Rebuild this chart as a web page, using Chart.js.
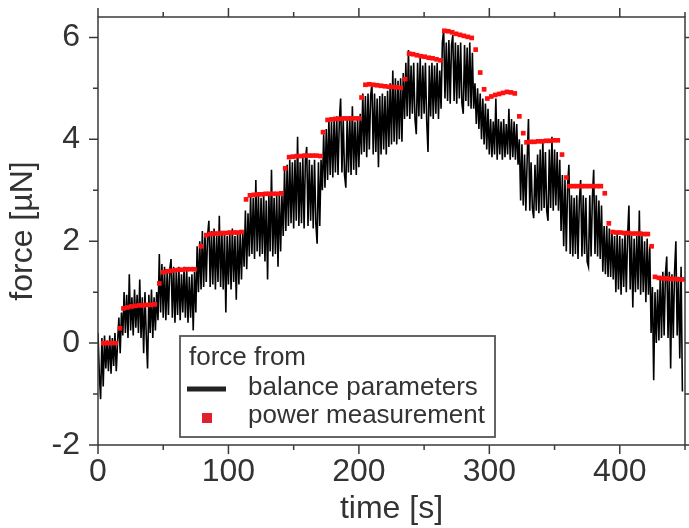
<!DOCTYPE html>
<html>
<head>
<meta charset="utf-8">
<script src="https://cdn.jsdelivr.net/npm/chart.js@4/dist/chart.umd.min.js"></script>
<style>
  html, body { margin: 0; padding: 0; background: #fff; }
  canvas { display: block; }
</style>
</head>
<body>
<canvas id="forceChart" width="689" height="528"></canvas>
<script>
// balance parameters: sampled every 1 s from t = 0
const balanceStep = 1;
const balanceForce = [
  0.2, -0.6, -1.1, 0.1, -0.85, 0.15, -0.5, 0.05, -0.55, 0.15,
  -0.6, 0.1, -0.45, 0.2, -0.55, 0.0, 0.5, -0.2, 0.6, 0.15,
  1.0, 0.2, 0.95, 0.1, 1.35, 0.25, 0.9, 0.15, 1.05, 0.3,
  0.95, 0.2, 1.25, 0.1, 0.9, -0.2, 1.0, 0.15, -0.5, 0.95,
  0.2, 1.05, 0.1, 0.9, 0.25, 1.0, 0.45, 1.75, 0.6, 1.55,
  0.5, 1.5, 0.45, 1.4, 0.55, 1.45, 1.65, 0.5, 1.5, 0.4,
  1.4, 0.55, 1.5, 0.45, 1.35, 0.6, 1.5, 0.5, 1.45, 0.4,
  1.3, 0.5, 1.35, 0.25, 1.4, 0.6, 1.9, 1.0, 2.0, 1.05,
  2.2, 1.1, 2.15, 1.2, 2.1, 2.4, 1.1, 2.2, 1.15, 2.25,
  1.05, 2.1, 1.2, 2.5, 1.1, 2.15, 1.05, 2.2, 0.6, 2.1,
  1.15, 2.2, 1.05, 2.25, 1.2, 2.1, 0.85, 2.2, 1.15, 2.15,
  1.25, 2.2, 1.5, 2.6, 1.45, 2.55, 1.7, 2.9, 1.75, 2.85,
  1.65, 3.2, 1.8, 2.9, 1.7, 2.85, 1.75, 2.95, 1.6, 2.8,
  1.25, 2.9, 1.8, 3.4, 1.7, 2.85, 1.75, 2.9, 1.5, 2.95,
  1.8, 2.9, 2.1, 3.4, 2.2, 3.5, 2.3, 3.6, 2.35, 3.55,
  2.25, 3.6, 2.4, 4.05, 2.3, 3.55, 2.35, 3.65, 2.25, 3.6,
  3.85, 2.3, 3.6, 2.4, 3.5, 2.25, 3.6, 2.35, 1.95, 3.55,
  2.3, 3.6, 3.0, 4.1, 3.05, 4.2, 3.2, 4.4, 3.3, 4.35,
  3.25, 4.4, 3.35, 4.45, 3.3, 4.35, 4.8, 3.35, 4.4, 3.3,
  3.05, 4.4, 3.35, 4.45, 3.3, 4.65, 3.4, 4.35, 3.3, 4.4,
  3.45, 4.5, 3.7, 4.9, 3.75, 4.85, 3.65, 4.9, 3.8, 4.85,
  5.1, 3.7, 4.9, 3.75, 4.8, 3.45, 4.85, 3.7, 4.9, 3.8,
  4.85, 3.7, 4.95, 3.85, 5.1, 3.9, 5.35, 3.95, 5.2, 3.9,
  5.15, 4.0, 5.2, 3.95, 5.3, 4.4, 5.5, 4.45, 5.75, 4.4,
  5.45, 4.5, 5.5, 4.4, 4.1, 5.5, 4.45, 5.6, 4.4, 5.45,
  4.5, 5.5, 4.35, 3.75, 5.45, 4.45, 5.5, 4.4, 5.45, 4.5,
  5.5, 4.4, 5.35, 4.6, 5.9, 6.15, 4.8, 5.9, 4.75, 5.95,
  4.7, 5.85, 6.05, 4.75, 5.9, 4.7, 5.85, 4.8, 5.9, 4.7,
  4.5, 5.85, 4.75, 5.8, 4.65, 5.9, 4.6, 5.7, 4.6, 5.1,
  4.3, 5.0, 4.2, 4.9, 4.0, 4.8, 3.9, 4.7, 3.8, 4.6,
  3.7, 4.4, 3.65, 4.35, 3.7, 4.8, 3.6, 4.4, 3.7, 4.35,
  3.6, 4.4, 3.65, 4.3, 3.7, 4.6, 3.6, 4.4, 3.65, 4.35,
  3.6, 4.3, 3.5, 4.0, 2.8, 3.9, 2.7, 3.7, 2.6, 3.6,
  4.4, 2.6, 3.55, 2.65, 2.45, 3.5, 2.6, 3.7, 2.55, 3.8,
  2.6, 4.0, 2.65, 3.75, 2.6, 2.4, 3.8, 2.65, 4.05, 2.6,
  3.8, 2.7, 3.75, 2.6, 3.6, 2.2, 3.3, 1.9, 3.2, 1.8,
  3.1, 3.5, 1.75, 2.9, 1.7, 2.85, 1.75, 2.9, 1.65, 2.8,
  3.2, 1.7, 2.9, 1.75, 2.85, 1.6, 1.5, 2.9, 1.7, 2.85,
  3.4, 1.75, 2.9, 1.7, 2.8, 1.65, 2.7, 1.4, 2.3, 1.35,
  2.3, 1.3, 2.25, 1.3, 2.2, 1.25, 2.1, 1.0, 2.15, 1.05,
  2.1, 0.95, 2.05, 1.1, 2.15, 1.0, 2.1, 2.7, 1.05, 2.1,
  0.7, 2.05, 1.0, 2.1, 1.05, 2.6, 0.95, 2.1, 1.0, 2.0,
  0.8, 2.05, 0.95, 1.9, 0.2, 1.1, -0.73, 1.0, 0.0, 1.05,
  0.05, 1.3, 0.1, 1.4, 0.15, 1.35, 1.7, 0.1, 1.4, -0.5,
  1.35, 0.1, 1.4, 2.0, 0.15, 1.3, -0.3, 1.5, -0.95
];

// power measurement
const powerTime = [
  4, 7, 10, 13.5, 16.8,
  19.5, 22.5, 25.5, 28.5, 31.5, 34.5, 37.5, 40.5, 43.5, 47,
  50, 53, 56, 59, 62, 65, 68, 71, 74, 79,
  83, 86, 89, 92, 95, 98, 101, 104, 107, 110, 113.5,
  116.5, 119.5, 122.5, 125.5, 128.5, 131.5, 134.5, 137.5, 140.5, 143.5,
  146.5, 149.5, 152.5, 155.5, 158.5, 161.5, 164.5, 167.5, 170.5, 172.5,
  176, 179, 182, 185, 188, 191, 194, 197, 200, 202,
  205, 208, 211, 214, 217, 220, 223, 226, 229, 232, 235.5,
  238.5, 241.5, 244.5, 247.5, 250.5, 253.5, 256.5, 259.5, 262.5,
  265.5, 268.5, 271.5, 274.5, 277.5, 280.5, 283.5, 286.5, 289.5, 293, 296,
  298.5, 301.5, 304.5, 307.5, 310.5, 313.5, 316.5, 319.5, 323, 326,
  328.5, 331.5, 334.5, 337.5, 340.5, 343.5, 346.5, 349.5, 352.5, 355.7, 359,
  361.5, 364.5, 367.5, 370.5, 373.5, 376.5, 379.5, 382.5, 385.5, 388.5, 391.6,
  394.5, 397.5, 400.5, 403.5, 406.5, 409.5, 412.5, 415.5, 418.5, 421.5, 424.4,
  427, 430, 433, 436, 439, 442, 445, 448
];
const powerForce = [
  0, 0, 0, 0, 0.29,
  0.68, 0.7, 0.72, 0.73, 0.74, 0.74, 0.75, 0.75, 0.76, 1.17,
  1.39, 1.41, 1.42, 1.43, 1.44, 1.44, 1.45, 1.45, 1.45, 1.9,
  2.12, 2.14, 2.15, 2.15, 2.16, 2.16, 2.17, 2.17, 2.17, 2.18, 2.82,
  2.9, 2.91, 2.92, 2.92, 2.93, 2.93, 2.93, 2.93, 2.94, 3.43,
  3.65, 3.66, 3.67, 3.67, 3.68, 3.68, 3.68, 3.68, 3.67, 4.14,
  4.38, 4.39, 4.4, 4.4, 4.41, 4.41, 4.41, 4.41, 4.41, 4.82,
  5.07, 5.08, 5.07, 5.06, 5.05, 5.04, 5.03, 5.03, 5.02, 5.01, 5.18,
  5.68, 5.67, 5.65, 5.63, 5.62, 5.6, 5.59, 5.57, 5.55,
  6.13, 6.12, 6.1, 6.07, 6.05, 6.03, 6.01, 5.99, 5.76, 5.31, 4.98,
  4.8, 4.84, 4.87, 4.89, 4.91, 4.93, 4.92, 4.9, 4.45, 4.12,
  3.94, 3.95, 3.95, 3.96, 3.96, 3.97, 3.97, 3.98, 3.98, 3.7, 3.25,
  3.08, 3.08, 3.08, 3.08, 3.08, 3.08, 3.08, 3.08, 3.08, 2.94, 2.35,
  2.18, 2.17, 2.17, 2.16, 2.16, 2.15, 2.15, 2.15, 2.14, 2.14, 1.9,
  1.3, 1.28, 1.27, 1.27, 1.26, 1.26, 1.25, 1.25
];

const xTicks = [0, 100, 200, 300, 400];
const xMinorTicks = [50, 150, 250, 350, 450];
const yTicks = [-2, 0, 2, 4, 6];
const yMinorTicks = [-1, 1, 3, 5];

const legendTitle = 'force from';
const legendLabels = ['balance parameters', 'power measurement'];

const FONT = '"Liberation Sans", Arial, Helvetica, sans-serif';
const TEXT = '#333';
const AXIS = '#3a3a3a';

const balancePoints = balanceForce.map((f, i) => ({ x: i * balanceStep, y: f }));
const powerPoints = powerTime.map((t, i) => ({ x: t, y: powerForce[i] }));

// frame and ticks on all four sides, pointing outward
const framePlugin = {
  id: 'frame',
  afterDraw(chart) {
    const { ctx, chartArea: a, scales } = chart;
    const xs = scales.x, ys = scales.y;
    ctx.save();
    ctx.strokeStyle = AXIS;
    ctx.lineWidth = 1.5;
    ctx.strokeRect(a.left, a.top, a.right - a.left, a.bottom - a.top);
    ctx.beginPath();
    const xtick = (vals, len) => {
      vals.forEach(v => {
        const px = xs.getPixelForValue(v);
        ctx.moveTo(px, a.bottom); ctx.lineTo(px, a.bottom + len);
        ctx.moveTo(px, a.top); ctx.lineTo(px, a.top - len);
      });
    };
    const ytick = (vals, len) => {
      vals.forEach(v => {
        const py = ys.getPixelForValue(v);
        ctx.moveTo(a.left, py); ctx.lineTo(a.left - len, py);
        ctx.moveTo(a.right, py); ctx.lineTo(a.right + len, py);
      });
    };
    xtick(xTicks, 9); xtick(xMinorTicks, 5);
    ytick(yTicks, 9); ytick(yMinorTicks, 5);
    ctx.stroke();
    ctx.restore();
  }
};

// boxed legend inside the plot, lower middle
const legendPlugin = {
  id: 'boxLegend',
  afterDraw(chart) {
    const { ctx, chartArea: a } = chart;
    const bx = a.left + 82, by = a.top + 319, bw = 315, bh = 101;
    ctx.save();
    ctx.fillStyle = '#fff';
    ctx.fillRect(bx, by, bw, bh);
    ctx.strokeStyle = '#555';
    ctx.lineWidth = 1.8;
    ctx.strokeRect(bx, by, bw, bh);
    ctx.font = '26px ' + FONT;
    ctx.fillStyle = TEXT;
    ctx.textBaseline = 'alphabetic';
    ctx.fillText(legendTitle, bx + 9, by + 29);
    ctx.fillText(legendLabels[0], bx + 68, by + 59);
    ctx.fillText(legendLabels[1], bx + 68, by + 87);
    ctx.strokeStyle = '#222';
    ctx.lineWidth = 5;
    ctx.beginPath();
    ctx.moveTo(bx + 7, by + 53);
    ctx.lineTo(bx + 46, by + 53);
    ctx.stroke();
    ctx.fillStyle = '#e0202a';
    ctx.fillRect(bx + 22, by + 77, 10, 10);
    ctx.restore();
  }
};

const ctx = document.getElementById('forceChart').getContext('2d');
new Chart(ctx, {
  type: 'scatter',
  data: {
    datasets: [{
      label: legendLabels[1],
      data: powerPoints,
      pointStyle: 'rect',
      pointRadius: 3.3,
      pointBorderWidth: 0,
      backgroundColor: '#ff1010',
      showLine: false
    }, {
      label: legendLabels[0],
      data: balancePoints,
      showLine: true,
      borderColor: '#000',
      borderWidth: 1.6,
      pointRadius: 0,
      tension: 0
    }]
  },
  options: {
    responsive: false,
    animation: false,
    layout: { padding: { top: 17, right: 3, bottom: 0, left: 0 } },
    plugins: {
      legend: { display: false },
      tooltip: { enabled: false }
    },
    scales: {
      x: {
        type: 'linear',
        min: 0,
        max: 450,
        afterFit: s => { s.height = 83; s.paddingLeft = 0; s.paddingRight = 0; },
        grid: { display: false, drawTicks: false },
        border: { display: false },
        ticks: {
          stepSize: 100,
          includeBounds: false,
          maxRotation: 0,
          padding: 8,
          color: TEXT,
          font: { family: FONT, size: 32 }
        },
        title: {
          display: true,
          text: 'time [s]',
          color: TEXT,
          padding: { top: 0, bottom: 0 },
          font: { family: FONT, size: 32 }
        }
      },
      y: {
        type: 'linear',
        min: -2,
        max: 6.4,
        afterFit: s => { s.width = 98; s.paddingTop = 0; s.paddingBottom = 0; },
        grid: { display: false, drawTicks: false },
        border: { display: false },
        ticks: {
          stepSize: 2,
          includeBounds: false,
          padding: 18,
          color: TEXT,
          font: { family: FONT, size: 32 }
        },
        title: {
          display: true,
          text: 'force [µN]',
          color: TEXT,
          padding: { top: 4, bottom: 0 },
          font: { family: FONT, size: 32 }
        }
      }
    }
  },
  plugins: [framePlugin, legendPlugin]
});
</script>
</body>
</html>
